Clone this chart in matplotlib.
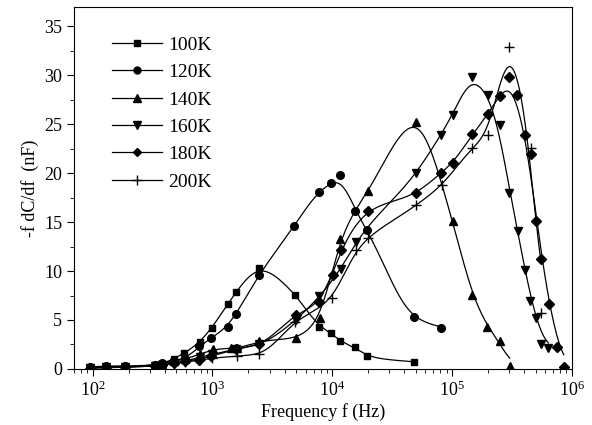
import numpy as np
import matplotlib
matplotlib.use("Agg")
import matplotlib.pyplot as plt
from matplotlib.ticker import MultipleLocator, LogLocator, NullFormatter

plt.rcParams['font.family'] = ['Liberation Serif', 'DejaVu Serif']
plt.rcParams['mathtext.fontset'] = 'custom'
plt.rcParams['mathtext.rm'] = 'Liberation Serif'
plt.rcParams['mathtext.it'] = 'Liberation Serif:italic'

# data: frequency (Hz) and -f dC/df (nF)
f_100 = [95, 130, 185, 330, 380, 475, 580, 790, 990, 1340, 1580, 2460, 4920, 7800, 9770, 11600, 15500, 19500, 48000]
c_100 = [0.1, 0.2, 0.2, 0.4, 0.5, 1.0, 1.6, 2.7, 4.2, 6.6, 7.9, 10.3, 7.6, 4.3, 3.7, 2.8, 2.2, 1.3, 0.7]

f_120 = [95, 130, 185, 330, 380, 480, 590, 780, 975, 1360, 1575, 2460, 4820, 7690, 9770, 11650, 15500, 19500, 48000, 80500]
c_120 = [0.2, 0.3, 0.3, 0.4, 0.6, 0.8, 1.0, 2.3, 3.2, 4.3, 5.6, 9.6, 14.6, 18.1, 19.0, 19.8, 16.1, 14.2, 5.3, 4.2]

f_140 = [95, 130, 185, 330, 380, 480, 590, 790, 1006, 1430, 1595, 2460, 4980, 7940, 11600, 19950,
         49800, 101000, 147000, 197000, 250000, 303000]
c_140 = [0.1, 0.2, 0.2, 0.4, 0.5, 0.8, 1.0, 1.5, 2.0, 2.1, 2.1, 2.8, 3.2, 5.2, 13.3, 18.2,
         25.2, 15.1, 7.6, 4.3, 2.8, 0.3]

f_160 = [95, 130, 185, 330, 380, 480, 590, 790, 1000, 1575, 2460, 4950, 7800, 11800, 15900,
         49800, 80500, 101000, 148000, 199000, 250000, 298000, 357000, 405000, 446000, 505000, 556000, 636000]
c_160 = [0.1, 0.2, 0.2, 0.3, 0.4, 0.6, 0.8, 1.2, 1.5, 2.0, 2.5, 5.0, 7.4, 10.2, 13.0,
         20.0, 23.9, 25.9, 29.8, 28.0, 24.9, 18.0, 14.1, 10.1, 6.9, 5.2, 2.5, 2.1]

f_180 = [95, 130, 185, 330, 380, 480, 590, 780, 980, 1575, 2460, 4950, 7800, 10060, 11800, 19950,
         50200, 80500, 101000, 148000, 199000, 250000, 298000, 350000, 405000, 453000, 500000,
         550000, 647000, 755000, 855000]
c_180 = [0.0, 0.2, 0.2, 0.3, 0.4, 0.6, 0.8, 0.95, 1.3, 2.0, 2.5, 5.5, 6.8, 9.6, 12.2, 16.1,
         18.0, 20.0, 21.0, 24.0, 26.0, 27.9, 29.8, 28.0, 23.9, 22.0, 15.1,
         11.2, 6.6, 2.2, 0.2]

f_200 = [95, 130, 185, 330, 380, 480, 590, 790, 1000, 1595, 2460, 4920, 9900, 15900, 19950,
         49800, 82000, 148000, 199000, 298000, 453000, 550000]
c_200 = [0.1, 0.1, 0.2, 0.3, 0.4, 0.5, 0.7, 0.9, 1.1, 1.3, 1.5, 4.8, 7.2, 12.2, 13.4,
         16.7, 18.8, 22.6, 23.9, 32.9, 22.6, 5.7]

labels = ['100K', '120K', '140K', '160K', '180K', '200K']
markers = ['s', 'o', '^', 'v', 'D', '+']


def pchip(x, y, xn):
    x = np.asarray(x, float)
    y = np.asarray(y, float)
    h = np.diff(x)
    d = np.diff(y) / h
    m = np.zeros_like(y)
    m[0], m[-1] = d[0], d[-1]
    for k in range(1, len(x) - 1):
        if d[k - 1] * d[k] > 0:
            w1 = 2 * h[k] + h[k - 1]
            w2 = h[k] + 2 * h[k - 1]
            m[k] = (w1 + w2) / (w1 / d[k - 1] + w2 / d[k])
    i = np.clip(np.searchsorted(x, xn) - 1, 0, len(x) - 2)
    t = (xn - x[i]) / h[i]
    h00 = 2 * t**3 - 3 * t**2 + 1
    h10 = t**3 - 2 * t**2 + t
    h01 = -2 * t**3 + 3 * t**2
    h11 = t**3 - t**2
    return h00 * y[i] + h10 * h[i] * m[i] + h01 * y[i + 1] + h11 * h[i] * m[i + 1]


def smooth_curve(f, c, sigma=0.07):
    # fitted-looking line: monotone cubic in log f, then a light gaussian blur
    u = np.log10(f)
    un = np.linspace(u[0], u[-1], 600)
    yn = pchip(u, c, un)
    du = un[1] - un[0]
    k = np.arange(-int(4 * sigma / du), int(4 * sigma / du) + 1) * du
    g = np.exp(-0.5 * (k / sigma) ** 2)
    g /= g.sum()
    pad = len(k) // 2
    yp = np.concatenate([np.full(pad, yn[0]), yn, np.full(pad, yn[-1])])
    ys = np.convolve(yp, g, mode='valid')
    return 10 ** un, ys


fig = plt.figure(figsize=(5.92, 4.25), dpi=100)
ax = fig.add_axes([0.125, 0.132, 0.841, 0.852])

sizes = {'s': 5, 'o': 5.5, '^': 6, 'v': 6, 'D': 4.8, '+': 7}
series = [(f_100, c_100), (f_120, c_120), (f_140, c_140), (f_160, c_160), (f_180, c_180), (f_200, c_200)]
for (f, c), lab, mk in zip(series, labels, markers):
    xs, ys = smooth_curve(f, c)
    ax.plot(xs, ys, color='black', lw=0.9)
    ax.plot(f, c, linestyle='none', marker=mk, color='black', ms=sizes[mk], mew=1.0)
    ax.plot([], [], color='black', lw=0.9, marker=mk, ms=sizes[mk] - 0.5, label=lab)

ax.set_xscale('log')
ax.set_xlim(70, 1e6)
ax.set_ylim(0, 37)
ax.yaxis.set_major_locator(MultipleLocator(5))
ax.yaxis.set_minor_locator(MultipleLocator(2.5))
ax.xaxis.set_major_locator(LogLocator(base=10, numticks=10))
ax.xaxis.set_minor_locator(LogLocator(base=10, subs=np.arange(2, 10), numticks=10))
ax.xaxis.set_minor_formatter(NullFormatter())
ax.tick_params(axis='both', which='major', direction='out', length=5, labelsize=13, top=False, right=False)
ax.tick_params(axis='both', which='minor', direction='out', length=3, top=False, right=False)

ax.set_xlabel('Frequency f (Hz)', fontsize=13, labelpad=2)
ax.set_ylabel('-f dC/df  (nF)', fontsize=13, labelpad=4)

ax.legend(loc='upper left', frameon=False, fontsize=14, handlelength=2.6,
          labelspacing=0.5, handletextpad=0.3, borderaxespad=0.0,
          bbox_to_anchor=(0.06, 0.94))

fig.savefig('out.png', dpi=100)
